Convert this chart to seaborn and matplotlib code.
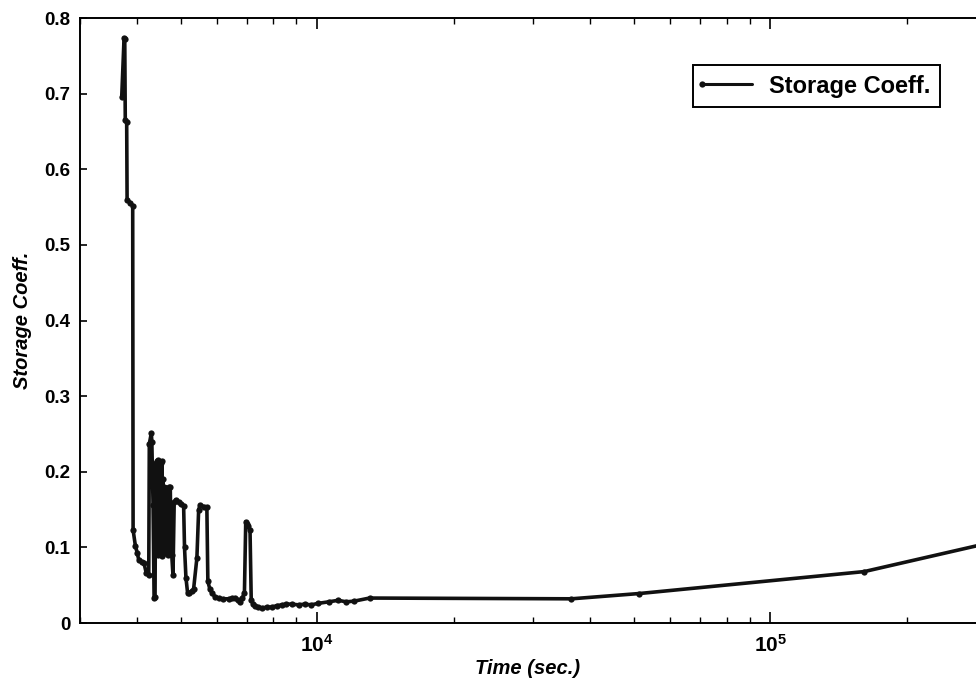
import numpy as np
import pandas as pd
import matplotlib
matplotlib.use('Agg')
import matplotlib.pyplot as plt
import seaborn as sns
from matplotlib.legend_handler import HandlerLine2D
from matplotlib.ticker import FixedLocator, LogLocator, NullFormatter

# values
time_sec = [3707, 3752, 3765, 3775, 3802, 3810, 3868, 3920, 3928, 3974, 4010, 4044,
            4100, 4148, 4200, 4253, 4265, 4309, 4320, 4347, 4370, 4391, 4405, 4420,
            4435, 4445, 4458, 4468, 4480, 4492, 4503, 4515, 4530, 4540, 4549, 4560,
            4575, 4585, 4596, 4608, 4620, 4632, 4642, 4656, 4670, 4690, 4700, 4720,
            4744, 4760, 4780, 4810, 4840, 4880, 4950, 5009, 5077, 5100, 5137, 5180,
            5223, 5290, 5341, 5431, 5480, 5522, 5627, 5713, 5742, 5800, 5860, 5950,
            6062, 6200, 6377, 6500, 6593, 6680, 6762, 6840, 6914, 6960, 7000, 7056,
            7113, 7157, 7230, 7298, 7420, 7550, 7750, 7943, 8150, 8354, 8550, 8788,
            9100, 9386, 9700, 10061, 10600, 11131, 11600, 12090, 13050, 36400, 51400,
            161000, 320000]
storage = [0.695, 0.774, 0.772, 0.665, 0.662, 0.560, 0.556, 0.552, 0.123, 0.102, 0.093, 0.083,
           0.081, 0.080, 0.066, 0.063, 0.237, 0.251, 0.240, 0.156, 0.033, 0.034, 0.200, 0.212,
           0.100, 0.214, 0.215, 0.090, 0.210, 0.095, 0.213, 0.100, 0.212, 0.090, 0.214, 0.088,
           0.190, 0.092, 0.180, 0.100, 0.178, 0.095, 0.178, 0.100, 0.175, 0.090, 0.170, 0.180,
           0.180, 0.120, 0.090, 0.063, 0.160, 0.163, 0.160, 0.158, 0.155, 0.100, 0.060, 0.040,
           0.040, 0.042, 0.045, 0.086, 0.150, 0.156, 0.154, 0.153, 0.055, 0.045, 0.040, 0.035,
           0.033, 0.032, 0.032, 0.033, 0.033, 0.030, 0.028, 0.033, 0.040, 0.134, 0.131, 0.128,
           0.123, 0.030, 0.025, 0.022, 0.021, 0.020, 0.021, 0.021, 0.023, 0.024, 0.025, 0.025,
           0.024, 0.025, 0.024, 0.026, 0.028, 0.030, 0.028, 0.029, 0.033, 0.032, 0.039,
           0.068, 0.109]

y_ticks = [0, 0.1, 0.2, 0.3, 0.4, 0.5, 0.6, 0.7, 0.8]
y_labels = ['0', '0.1', '0.2', '0.3', '0.4', '0.5', '0.6', '0.7', '0.8']
x_major = [1e4, 1e5]
x_labels = [r'$10^{4}$', r'$10^{5}$']

df = pd.DataFrame({'time': time_sec, 'coeff': storage})

sns.set_style('ticks')
plt.rcParams['font.family'] = ['Liberation Sans', 'DejaVu Sans']
plt.rcParams['text.color'] = 'black'
plt.rcParams['axes.labelcolor'] = 'black'
plt.rcParams['xtick.color'] = 'black'
plt.rcParams['ytick.color'] = 'black'
plt.rcParams['mathtext.fontset'] = 'custom'
plt.rcParams['mathtext.rm'] = 'Liberation Sans:weight=bold'
plt.rcParams['mathtext.bf'] = 'Liberation Sans:weight=bold'
plt.rcParams['mathtext.it'] = 'Liberation Sans:weight=bold'
plt.rcParams['mathtext.default'] = 'bf'

fig = plt.figure(figsize=(9.76, 6.82), dpi=100)
ax = fig.add_axes([0.082, 0.0865, 0.918, 0.8871])

sns.lineplot(data=df, x='time', y='coeff', ax=ax, sort=False, estimator=None,
             color='#111111', linewidth=2.6, marker='o', markersize=4.5,
             markeredgewidth=0, label='Storage Coeff.')

ax.set_xscale('log')
ax.set_xlim(3000, 2.84e5)
ax.set_ylim(0, 0.8)

ax.xaxis.set_major_locator(FixedLocator(x_major))
ax.set_xticklabels(x_labels)
ax.xaxis.set_minor_locator(LogLocator(base=10, subs=np.arange(2, 10)))
ax.xaxis.set_minor_formatter(NullFormatter())
ax.set_yticks(y_ticks)
ax.set_yticklabels(y_labels)

ax.tick_params(axis='both', which='both', direction='in', colors='black', labelcolor='black')
ax.tick_params(axis='x', which='major', length=8, width=1.2, top=True, labelsize=15, pad=8)
ax.tick_params(axis='x', which='minor', length=4, width=1.0, top=True)
ax.tick_params(axis='y', which='major', length=5, width=1.2, labelsize=13.5, pad=7)
for lbl in ax.get_yticklabels():
    lbl.set_fontweight('bold')

for s in ['left', 'bottom', 'top']:
    ax.spines[s].set_linewidth(1.4)
    ax.spines[s].set_color('black')
ax.spines['right'].set_visible(False)

ax.set_xlabel('Time (sec.)', fontsize=14.5, fontweight='bold', style='italic',
              labelpad=2, color='black')
ax.set_ylabel('Storage Coeff.', fontsize=14.5, fontweight='bold', style='italic',
              labelpad=9, color='black')


class LeftMarker(HandlerLine2D):
    # marker sits at the left end of the legend line, as in the original
    def create_artists(self, *args, **kwargs):
        arts = super().create_artists(*args, **kwargs)
        for a in arts:
            a.set_markevery([0])
        return arts


handles, labels = ax.get_legend_handles_labels()
leg = ax.legend(handles, labels, loc='upper right', bbox_to_anchor=(0.960, 0.922),
                borderaxespad=0, fancybox=False, framealpha=1, edgecolor='black',
                numpoints=1, handlelength=2.1, handletextpad=0.75, borderpad=0.4,
                prop={'weight': 'bold', 'size': 17}, labelcolor='black',
                handler_map={handles[0]: LeftMarker()})
leg.get_frame().set_linewidth(1.4)
for ln in leg.get_lines():
    ln.set_linewidth(2.2)

fig.savefig('out.png', dpi=100)
